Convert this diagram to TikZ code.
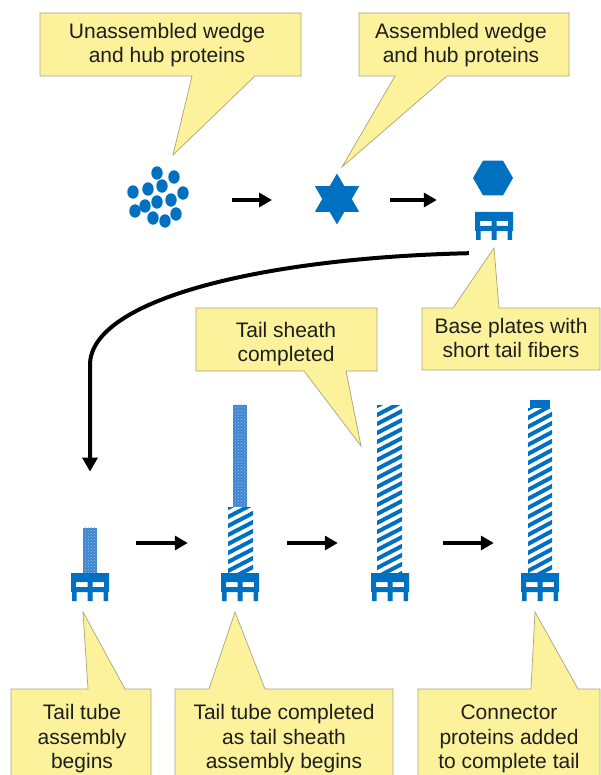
\documentclass[tikz,border=0pt]{standalone}
\usepackage{fontspec}
\setmainfont{Liberation Sans}
\usetikzlibrary{arrows.meta,shapes.geometric,patterns}

\definecolor{phage}{RGB}{0,112,192}
\definecolor{tubeblue}{RGB}{62,132,206}
\definecolor{tubedots}{RGB}{150,196,236}
\definecolor{notefill}{RGB}{252,242,155}
\definecolor{noteline}{RGB}{170,165,125}
\definecolor{notetext}{RGB}{30,30,30}

\tikzset{
  note/.style={fill=notefill, draw=noteline, line width=0.7pt},
  notetxt/.style={align=center, text=notetext, inner sep=0pt,
    font=\fontsize{21}{24.5}\selectfont},
  flow/.style={line width=4.5pt, -{Triangle[length=13pt,width=14pt]}},
  ghost/.style={inner sep=0pt, minimum width=38pt, minimum height=10pt},
  sheath/.style={draw=phage, line width=4pt},
  tube/.style={inner sep=0pt, minimum width=14pt, anchor=south,
    preaction={fill=tubeblue}, pattern=crosshatch dots, pattern color=tubedots},
  baseplate/.pic={
    \fill[phage] (-19,0) rectangle (19,9)
      (-19,9) rectangle (-14,19) (-2.5,9) rectangle (2.5,19) (14,9) rectangle (19,19)
      (-19,14) rectangle (19,19)
      (-18,19) rectangle (-13.5,28) (-2.5,19) rectangle (2.5,28) (13.5,19) rectangle (18,28);
  }
}

\begin{document}
\begin{tikzpicture}[x=1pt,y=-1pt]

\useasboundingbox (0,0) rectangle (600,775);
\fill[white] (0,0) rectangle (600,775);

% callouts
\draw[note] (40,13) -- (301,13) -- (301,76) -- (255,76) -- (173,155) -- (192,76) -- (40,76) -- cycle;
\node[notetxt] (t1) at (167,45) {Unassembled wedge\\and hub proteins};

\draw[note] (359,13) -- (569,13) -- (569,76) -- (447,76) -- (342,167) -- (395,76) -- (359,76) -- cycle;
\node[notetxt] (t2) at (461,45) {Assembled wedge\\and hub proteins};

\draw[note] (196,308) -- (377,308) -- (377,371) -- (346,371) -- (361,446) -- (304,371) -- (196,371) -- cycle;
\node[notetxt] (t3) at (286,344) {Tail sheath\\completed};

\draw[note] (422,308) -- (453,308) -- (494,248) -- (499,308) -- (600,308) -- (600,370) -- (422,370) -- cycle;
\node[notetxt] (t4) at (511,338) {Base plates with\\short tail fibers};

\draw[note] (11,689) -- (88,689) -- (83,612) -- (125,689) -- (151,689) -- (151,780) -- (11,780) -- cycle;
\node[notetxt] (t5) at (82,739) {Tail tube\\assembly\\begins};

\draw[note] (175,689) -- (209,689) -- (235,612) -- (265,689) -- (393,689) -- (393,780) -- (175,780) -- cycle;
\node[notetxt] (t6) at (284,739) {Tail tube completed\\as tail sheath\\assembly begins};

\draw[note] (418,689) -- (531,689) -- (535,612) -- (578,689) -- (600,689) -- (600,780) -- (418,780) -- cycle;
\node[notetxt] (t7) at (509,739) {Connector\\proteins added\\to complete tail};

% wedge and hub proteins
\foreach \x/\y in {157/173, 174/177, 162/186, 148/189, 133/192, 183/193, 157/202,
                   171/200, 145/206, 135/211, 176/214, 153/218, 165/221}
  \fill[phage] (\x,\y) ellipse (5.7 and 6.7);
\node[inner sep=0pt, minimum size=60pt] (free) at (157,200) {};

\node[star, star points=6, star point ratio=1.73, fill=phage, inner sep=0pt,
      minimum size=51pt] (star) at (337,199) {};

\node[regular polygon, regular polygon sides=6, fill=phage, inner sep=0pt,
      minimum size=40pt] (hub) at (493,178) {};
\pic at (494,212) {baseplate};
\node[inner sep=0pt, minimum width=40pt, minimum height=82pt] (plateA) at (493,200) {};

\draw[flow, shorten <=45pt, shorten >=50pt] (free.east) -- (star.west |- free.east);
\draw[flow, shorten <=38pt, shorten >=36pt] (star.east |- plateA.west) -- (plateA.west);

% tails
\pic at (90,573) {baseplate};
\node[tube, minimum height=45pt] (tubeA) at (90,573) {};

\pic at (240,573) {baseplate};
\node[tube, minimum height=102pt] (tubeB) at (240,507) {};
\begin{scope}
  \clip (228,507) rectangle (253,573);
  \foreach \k in {0,...,9}
    \draw[sheath] (226,509+9*\k) -- ++(29,-15);
\end{scope}

\pic at (390,573) {baseplate};
\begin{scope}
  \clip (377,405) rectangle (402,573);
  \foreach \k in {0,...,20}
    \draw[sheath] (375,407+9*\k) -- ++(29,-15);
\end{scope}

\pic at (540,573) {baseplate};
\fill[phage] (530,400) rectangle (550,408);
\begin{scope}
  \clip (528,408) rectangle (552,573);
  \foreach \k in {0,...,20}
    \draw[sheath] (526,410+9*\k) -- ++(28,-15);
\end{scope}

\node[ghost] (tailA) at (90,543) {};
\node[ghost] (tailB) at (240,543) {};
\node[ghost] (tailC) at (390,543) {};
\node[ghost] (tailD) at (540,543) {};

\draw[flow, shorten <=27pt, shorten >=33pt] (tailA) -- (tailB);
\draw[flow, shorten <=28pt, shorten >=33pt] (tailB) -- (tailC);
\draw[flow, shorten <=34pt, shorten >=27pt] (tailC) -- (tailD);

\draw[flow, line width=4pt, -{Triangle[length=14pt,width=15pt]}, shorten >=56pt]
  ([xshift=-4pt,yshift=-12pt]plateA.south west) .. controls (260,258) and (90,300) .. (90,365)
  -- (tubeA.north);

\end{tikzpicture}
\end{document}
